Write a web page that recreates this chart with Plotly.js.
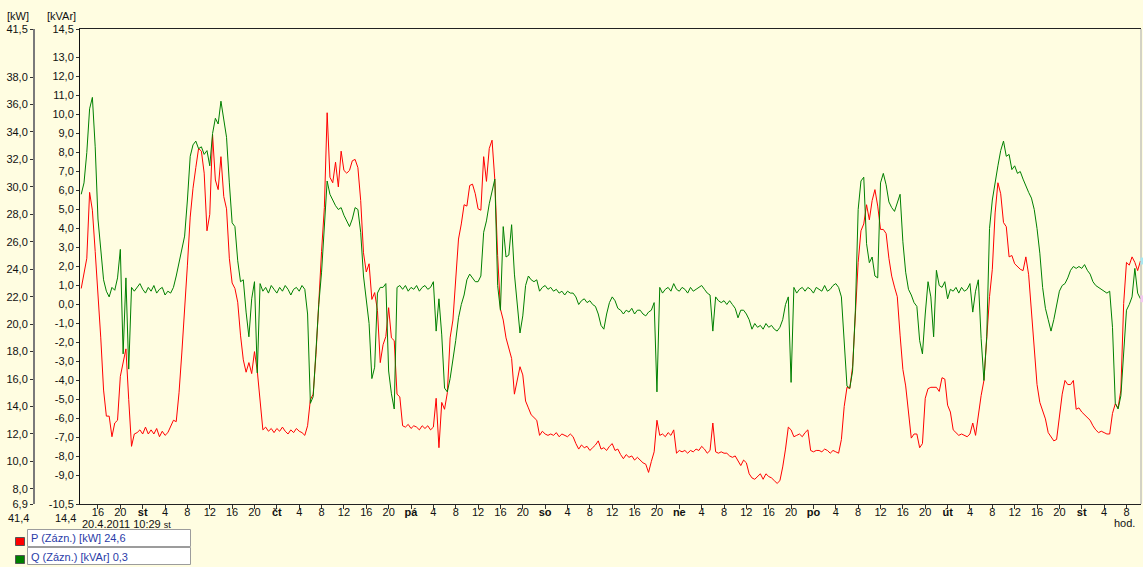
<!DOCTYPE html>
<html>
<head>
<meta charset="utf-8">
<script src="https://cdn.plot.ly/plotly-3.0.1.min.js"></script>
<style>
  html, body { margin: 0; padding: 0; background: #fffde1; }
  #chart { width: 1143px; height: 567px; }
</style>
</head>
<body>
<div id="chart"></div>
<script>
// Recorder export: active power P [kW] and reactive power Q [kVAr],
// half-hourly samples starting Tue 19.4.2011 13:00.
const SERIES_START = Date.UTC(2011, 3, 19, 13, 0);
const STEP_MIN = 30;

const P_KW = [
  22.6, 23.8, 24.8, 29.6, 28.3, 25.3, 22.3, 19.0,
  15.2, 13.3, 13.3, 11.8, 12.8, 13.0, 16.2, 17.3,
  18.2, 14.5, 11.1, 12.0, 12.1, 12.3, 12.0, 12.5,
  12.0, 12.3, 12.0, 12.4, 11.8, 12.2, 11.9, 12.1,
  12.5, 13.0, 12.9, 15.0, 17.9, 20.8, 24.3, 27.8,
  29.9, 31.4, 32.8, 32.6, 31.0, 26.8, 28.0, 33.8,
  30.5, 29.8, 32.2, 29.3, 28.4, 24.8, 23.0, 22.6,
  21.6, 19.2, 17.4, 16.5, 17.2, 16.4, 18.0, 16.6,
  14.4, 12.3, 12.5, 12.2, 12.4, 12.1, 12.4, 12.2,
  12.5, 12.2, 12.0, 12.3, 12.1, 12.4, 12.2, 12.1,
  11.9, 12.6, 14.5, 14.9, 17.8, 21.9, 25.3, 28.5,
  35.4, 30.7, 30.3, 31.8, 30.0, 32.6, 31.2, 31.0,
  31.2, 31.9, 32.0, 31.4, 29.0, 25.2, 23.8, 24.4,
  21.8, 22.3, 21.0, 17.2, 18.5, 19.1, 21.2, 19.0,
  18.8, 14.9, 14.7, 12.6, 12.5, 12.7, 12.4, 12.6,
  12.5, 12.3, 12.6, 12.4, 12.6, 12.3, 12.5, 14.6,
  11.0, 14.3, 13.8, 15.0, 19.0, 20.3, 23.6, 26.2,
  27.3, 28.7, 28.6, 30.1, 30.2, 29.5, 28.4, 28.3,
  32.2, 30.4, 32.8, 33.4, 30.5, 25.0, 21.1, 20.3,
  19.0, 18.3, 17.5, 14.9, 16.0, 16.9, 16.3, 14.4,
  13.9, 13.4, 13.2, 13.0, 11.9, 12.2, 12.0, 11.9,
  12.0, 11.9, 12.1, 11.8, 12.0, 11.9, 11.8, 12.0,
  11.8, 11.3, 10.9, 11.2, 11.0, 11.1, 10.8, 11.0,
  11.2, 11.5, 10.9, 11.0, 10.8, 11.1, 11.3, 10.8,
  10.9, 10.5, 10.2, 10.5, 10.3, 10.4, 10.1, 10.3,
  10.1, 9.9, 9.8, 9.2, 10.0, 10.7, 13.0, 11.9,
  12.0, 11.8, 12.1, 11.9, 12.3, 10.6, 10.8, 10.7,
  10.8, 10.6, 10.8, 10.7, 10.9, 10.8, 11.1, 10.9,
  10.6, 10.8, 12.8, 10.7, 10.6, 10.7, 10.6, 10.6,
  10.4, 10.3, 10.4, 10.0, 9.7, 10.1, 9.9, 9.1,
  8.8, 8.7, 8.9, 9.1, 8.7, 9.1, 8.9, 8.8,
  8.6, 8.4, 8.6, 9.6, 10.9, 12.5, 12.3, 11.8,
  11.9, 12.0, 11.8, 12.1, 12.3, 10.8, 10.7, 10.8,
  10.8, 10.7, 10.9, 10.8, 10.6, 10.8, 10.7, 10.6,
  11.6, 14.0, 15.4, 15.3, 16.9, 21.0, 24.5, 26.8,
  27.3, 28.7, 27.6, 29.0, 29.8, 28.6, 26.9, 26.9,
  26.6, 24.8, 23.5, 22.7, 22.0, 19.2, 16.7, 15.5,
  13.4, 11.7, 12.0, 12.0, 11.0, 11.3, 14.6, 15.3,
  15.4, 15.4, 15.4, 15.1, 16.1, 16.0, 14.1, 13.6,
  12.3, 12.1, 11.9, 12.0, 11.9, 11.8, 12.0, 12.8,
  11.9, 13.5, 14.8, 15.9, 19.1, 22.0, 24.0, 28.1,
  30.3, 29.5, 27.4, 27.1, 24.9, 25.0, 24.4, 24.2,
  24.0, 23.9, 24.9, 23.6, 21.0, 18.0, 15.6, 14.3,
  13.7, 13.1, 12.1, 11.8, 11.5, 11.6, 13.3, 14.9,
  15.9, 15.6, 15.6, 15.9, 13.8, 13.9, 13.6, 13.4,
  13.2, 13.0, 12.6, 12.3, 12.1, 12.2, 12.1, 12.0,
  12.0, 13.5, 14.2, 13.9, 15.2, 21.5, 24.5, 24.3,
  24.9, 24.5, 23.9, 24.6
];

const Q_KVAR = [
  5.8, 6.4, 8.0, 10.3, 10.9, 8.3, 4.5, 3.0,
  1.3, 0.7, 0.4, 0.9, 0.75, 1.4, 2.9, -2.6,
  1.4, -3.4, 0.9, 0.7, 0.9, 1.1, 0.8, 0.6,
  0.9, 0.7, 1.0, 0.6, 0.8, 0.9, 0.5, 0.7,
  0.6, 0.9, 1.5, 2.2, 3.0, 3.6, 5.5, 7.8,
  8.4, 8.6, 8.2, 8.3, 7.9, 8.1, 7.3, 9.0,
  9.8, 9.5, 10.7, 9.8, 8.8, 6.4, 4.3, 4.1,
  2.3, 1.2, 1.3, -0.4, -1.7, 0.3, 1.2, -3.6,
  1.1, 0.7, 0.9, 0.6, 1.0, 0.8, 0.6, 0.9,
  0.7, 1.0, 0.8, 0.5, 0.8, 0.9, 0.7, 1.0,
  0.8, -0.5, -5.2, -4.85, -2.3, 0.0, 1.7, 4.2,
  6.5, 5.8, 5.5, 5.2, 5.0, 5.1, 4.7, 4.4,
  4.1, 4.5, 5.1, 5.0, 3.8, 1.5, 0.2, -1.0,
  -3.9, -3.3, 0.6, 0.9, 0.9, 1.1, -3.5, -4.7,
  -5.5, 0.9, 1.0, 0.8, 1.0, 0.7, 0.9, 0.8,
  1.0, 0.7, 0.9, 1.0, 0.8, 0.9, 1.2, -1.4,
  0.3, -1.6, -4.4, -4.6, -3.9, -3.0, -1.9, -0.7,
  0.0, 0.5, 1.3, 1.6, 1.4, 1.2, 1.2, 1.5,
  3.8, 4.4, 5.3, 5.9, 6.6, 1.0, -0.3, 4.1,
  2.5, 2.6, 4.2, 1.6, 0.2, -1.5, -0.6, 1.0,
  1.5, 1.3, 1.2, 1.3, 0.7, 0.9, 1.0, 0.8,
  0.9, 0.7, 0.8, 0.6, 0.7, 0.5, 0.7, 0.6,
  0.6, 0.4, 0.0, 0.2, 0.3, 0.1, 0.2, 0.0,
  -0.1, -0.5, -1.1, -1.3, -0.5, 0.1, 0.4, 0.2,
  -0.2, -0.3, -0.5, -0.3, -0.4, -0.2, -0.5, -0.3,
  -0.3, -0.5, -0.6, -0.4, -0.3, 0.1, -4.6, 0.9,
  0.6, 0.8, 0.9, 0.7, 1.1, 0.8, 0.7, 0.9,
  0.8, 0.6, 0.9, 0.7, 0.8, 0.9, 1.0, 0.8,
  0.6, 0.5, -1.4, 0.4, 0.2, 0.1, 0.2, 0.0,
  0.2, 0.0, -0.2, -0.7, -0.3, -0.3, -0.5, -0.8,
  -1.3, -1.0, -1.2, -1.1, -1.3, -1.0, -1.2, -1.1,
  -1.3, -1.4, -1.2, -0.8, 0.0, 0.4, -4.1, 0.9,
  0.6, 0.8, 0.9, 0.7, 0.9, 0.8, 0.6, 0.9,
  0.8, 0.7, 1.0, 0.7, 0.8, 1.0, 1.1, 0.9,
  0.4, -2.0, -4.3, -4.4, -3.5, -0.3, 5.0, 6.5,
  6.7, 3.2, 2.2, 2.5, 1.5, 1.4, 6.4, 6.9,
  6.3, 5.4, 5.1, 4.9, 5.4, 5.8, 3.3, 1.7,
  0.8, 0.5, 0.1, -0.1, -1.9, -2.6, -0.5, 1.2,
  0.4, -1.7, 1.8, 1.0, 0.9, 1.2, 0.3, 0.8,
  0.7, 0.9, 0.6, 0.9, 0.7, 0.8, 1.1, -0.4,
  0.7, 1.3, -1.8, -4.0, -1.7, 4.0, 5.5, 6.5,
  7.3, 8.1, 8.6, 7.8, 7.9, 7.1, 7.3, 6.9,
  7.0, 6.6, 6.2, 5.9, 5.6, 5.0, 4.0, 2.7,
  0.9, -0.2, -0.8, -1.4, -0.8, -0.1, 0.7, 1.0,
  1.1, 1.4, 1.8, 2.0, 1.9, 2.0, 1.9, 2.1,
  1.8, 1.6, 1.2, 1.0, 0.9, 0.8, 0.7, 0.6,
  0.7, -1.2, -5.2, -5.5, -4.8, -2.6, -0.3, 0.0,
  0.4, 1.9, 0.6, 0.3
];

// Axis ticks
const KW_TICKS = [41.5, 38, 36, 34, 32, 30, 28, 26, 24, 22, 20, 18, 16, 14, 12, 10, 8, 6.9];
const KVAR_TICKS = [14.5, 13, 12, 11, 10, 9, 8, 7, 6, 5, 4, 3, 2, 1, 0, -1, -2, -3, -4, -5, -6, -7, -8, -9, -10.5];
const DAY_NAMES = ['ne', 'po', 'út', 'st', 'čt', 'pá', 'so'];
const CURSOR_LABEL = '20.4.2011 10:29';
const CURSOR_DAY = 'st';
const CURSOR_KW = '41,4';
const CURSOR_KVAR = '14,4';
const P_NAME = 'P (Zázn.) [kW]';
const Q_NAME = 'Q (Zázn.) [kVAr]';

const VIEW_START = Date.UTC(2011, 3, 19, 12, 47);
const VIEW_END = Date.UTC(2011, 3, 27, 10, 36);
const FIRST_TICK = Date.UTC(2011, 3, 19, 16, 0);
const LAST_TICK = Date.UTC(2011, 3, 27, 8, 0);

const fmtDate = ms => new Date(ms).toISOString().slice(0, 19).replace('T', ' ');
const comma = (v, d) => v.toFixed(d).replace('.', ',');

const times = P_KW.map((_, i) => fmtDate(SERIES_START + i * STEP_MIN * 60000));

const tickvals = [], ticktext = [];
for (let t = FIRST_TICK; t <= LAST_TICK; t += 4 * 3600000) {
  const d = new Date(t);
  tickvals.push(fmtDate(t));
  ticktext.push(d.getUTCHours() === 0 ? '<b>' + DAY_NAMES[d.getUTCDay()] + '</b>' : String(d.getUTCHours()));
}

// page geometry helpers (plot area 34..1141 x 29..504 px)
const W = 1143, H = 567, ML = 34, MR = 2, MT = 29, MB = 63;
const PW = W - ML - MR, PH = H - MT - MB;
const px = x => (x - ML) / PW;
const py = y => (H - MB - y) / PH;

const BG = '#fffde1';
const FONT = 'Liberation Sans, Arial, sans-serif';
const TXT = '#111111';

const traces = [
  {
    x: times, y: P_KW, yaxis: 'y', type: 'scatter', mode: 'lines', name: P_NAME,
    line: { color: '#ff0000', width: 1 }, hoverinfo: 'skip'
  },
  {
    x: times, y: Q_KVAR, yaxis: 'y2', type: 'scatter', mode: 'lines', name: Q_NAME,
    line: { color: '#008000', width: 1 }, hoverinfo: 'skip'
  }
];

const pLast = P_KW[P_KW.length - 1];
const qLast = Q_KVAR[Q_KVAR.length - 1];

const ann = (text, x, y, xanchor, extra) => Object.assign({
  text, x: px(x), y: py(y), xref: 'paper', yref: 'paper',
  xanchor, yanchor: 'middle', showarrow: false,
  font: { family: FONT, size: 11, color: TXT }
}, extra || {});

const annotations = [
  ann('[kW]', 31, 16, 'right'),
  ann('[kVAr]', 78, 16, 'right'),
  ann(CURSOR_KW, 31, 518, 'right'),
  ann(CURSOR_KVAR, 78, 518, 'right'),
  ann(CURSOR_LABEL + ' <span style="font-size:9px">' + CURSOR_DAY + '</span>', 80, 524, 'left'),
  ann('hod.', 1137, 523, 'right'),
  ann(P_NAME + ' ' + comma(pLast, 1), 29, 538, 'left', { font: { family: FONT, size: 11, color: '#2a3ca8' } }),
  ann(Q_NAME + ' ' + comma(qLast, 1), 29, 556.5, 'left', { font: { family: FONT, size: 11, color: '#2a3ca8' } })
];

const rect = (x0, y0, x1, y1, fill, line) => ({
  type: 'rect', xref: 'paper', yref: 'paper',
  x0: px(x0), x1: px(x1), y0: py(y1), y1: py(y0),
  fillcolor: fill, line: { color: line, width: 1 }, layer: 'above'
});

// small cursor flags on the right frame at the latest readings
const flag = (yref, v, color) => ({
  type: 'rect', xref: 'paper', yref, x0: px(1140.5), x1: px(1143),
  y0: v - (yref === 'y' ? 0.25 : 0.18), y1: v + (yref === 'y' ? 0.25 : 0.18),
  fillcolor: color, line: { width: 0 }, layer: 'above'
});

const shapes = [
  // right frame edge
  { type: 'line', xref: 'paper', yref: 'paper', x0: 1, x1: 1, y0: 0, y1: 1,
    line: { color: '#a8a8a8', width: 1 } },
  flag('y', pLast, '#a8e8f0'),
  flag('y2', qLast, '#f4c8f0'),
  // value boxes
  rect(27.5, 529.5, 190.5, 546.5, '#ffffff', '#9c9c9c'),
  rect(27.5, 547.5, 190.5, 564.5, '#ffffff', '#9c9c9c'),
  rect(15.5, 537.5, 24.5, 545.5, '#ff0000', '#555555'),
  rect(15.5, 555.5, 24.5, 563.5, '#008000', '#555555')
];

const layout = {
  width: W, height: H,
  margin: { l: ML, r: MR, t: MT, b: MB, pad: 0 },
  paper_bgcolor: BG, plot_bgcolor: BG,
  showlegend: false,
  font: { family: FONT, size: 11, color: TXT },
  xaxis: {
    type: 'date', domain: [px(80), 1],
    range: [fmtDate(VIEW_START), fmtDate(VIEW_END)],
    tickmode: 'array', tickvals, ticktext,
    ticks: 'outside', ticklen: 4, tickcolor: '#333333', tickwidth: 1,
    ticklabelstandoff: -6,
    showline: true, linecolor: '#222222', linewidth: 1, mirror: true,
    showgrid: false, zeroline: false,
    tickfont: { family: FONT, size: 11, color: TXT }
  },
  yaxis: {
    range: [6.9, 41.5], anchor: 'free', position: 0, side: 'left',
    tickmode: 'array', tickvals: KW_TICKS, ticktext: KW_TICKS.map(v => comma(v, 1)),
    ticks: 'outside', ticklen: 3, tickcolor: '#333333',
    showline: true, linecolor: '#7a7a7a', linewidth: 2,
    showgrid: false, zeroline: false,
    tickfont: { family: FONT, size: 11, color: TXT }
  },
  yaxis2: {
    range: [-10.5, 14.5], overlaying: 'y', anchor: 'x', side: 'left',
    tickmode: 'array', tickvals: KVAR_TICKS, ticktext: KVAR_TICKS.map(v => comma(v, 1)),
    ticks: 'outside', ticklen: 3, tickcolor: '#333333',
    showline: true, linecolor: '#111111', linewidth: 1,
    showgrid: false, zeroline: false,
    tickfont: { family: FONT, size: 11, color: TXT }
  },
  annotations, shapes
};

Plotly.newPlot('chart', traces, layout, { displayModeBar: false, staticPlot: true });
</script>
</body>
</html>
